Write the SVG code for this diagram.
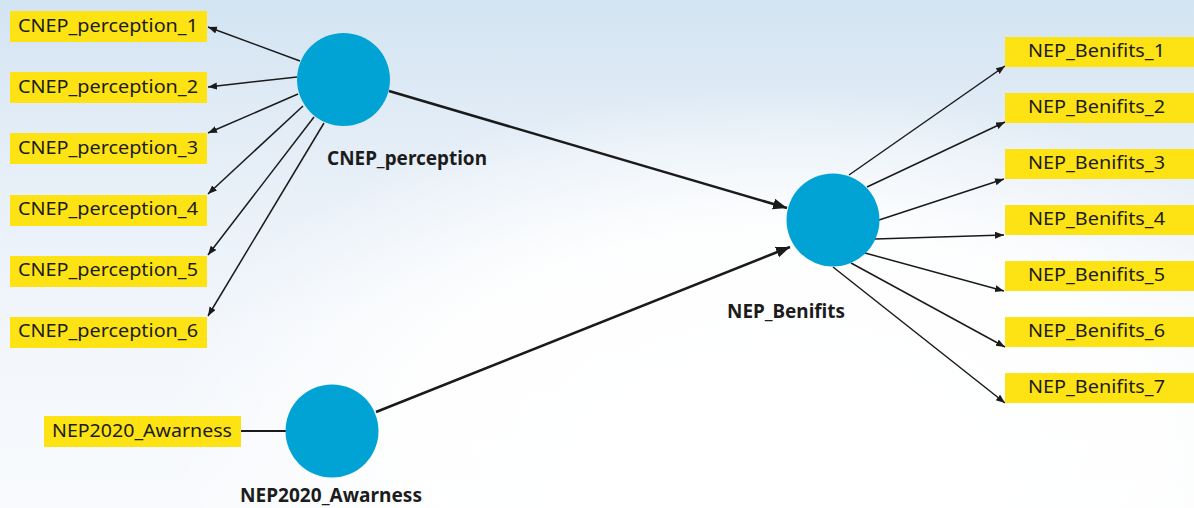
<svg xmlns="http://www.w3.org/2000/svg" width="1194" height="508" viewBox="0 0 1194 508">
<defs>
<linearGradient id="bg" x1="0" y1="0" x2="0" y2="1">
<stop offset="0" stop-color="#d3e4f2"/>
<stop offset="0.3" stop-color="#e5eef7"/>
<stop offset="0.65" stop-color="#f2f6fb"/>
<stop offset="1" stop-color="#f8fafd"/>
</linearGradient>
<radialGradient id="glow" cx="780" cy="430" r="620" gradientUnits="userSpaceOnUse" gradientTransform="translate(780 430) scale(1 0.55) translate(-780 -430)">
<stop offset="0" stop-color="#ffffff" stop-opacity="1"/>
<stop offset="0.6" stop-color="#ffffff" stop-opacity="0.9"/>
<stop offset="1" stop-color="#ffffff" stop-opacity="0"/>
</radialGradient>
<marker id="ah" markerUnits="userSpaceOnUse" markerWidth="10" markerHeight="8" refX="9" refY="3.5" orient="auto">
<path d="M0,0 L9,3.5 L0,7 z" fill="#1a1a1a"/>
</marker>
<marker id="ahBig" markerUnits="userSpaceOnUse" markerWidth="15" markerHeight="12" refX="14" refY="5.5" orient="auto">
<path d="M0,0 L14,5.5 L0,11 z" fill="#1a1a1a"/>
</marker>
</defs>
<style>
.box{fill:#fde314}
.lv{fill:#00a3d3}
.t{font-family:"Noto Sans","Liberation Sans",sans-serif;font-size:18px;fill:#1c1c1c}
.lbl{font-family:"Noto Sans","Liberation Sans",sans-serif;font-size:19px;font-weight:bold;fill:#1c1c1c}
.c{stroke:#1a1a1a;stroke-width:1.5;fill:none;marker-end:url(#ah)}
.cm{stroke:#1a1a1a;stroke-width:2.6;fill:none;marker-end:url(#ahBig)}
</style>
<rect x="0" y="0" width="1194" height="508" fill="url(#bg)"/>
<rect x="0" y="0" width="1194" height="508" fill="url(#glow)"/>

<g id="connectors">
<line class="c" x1="300" y1="61" x2="208" y2="27"/>
<line class="c" x1="297" y1="77" x2="208" y2="87"/>
<line class="c" x1="298" y1="94" x2="208" y2="133"/>
<line class="c" x1="303" y1="106" x2="208" y2="194"/>
<line class="c" x1="314" y1="117" x2="208" y2="255"/>
<line class="c" x1="324" y1="123" x2="208" y2="316"/>
<line class="c" x1="849" y1="175" x2="1005" y2="66"/>
<line class="c" x1="867" y1="187" x2="1005" y2="122"/>
<line class="c" x1="879" y1="220" x2="1004" y2="179"/>
<line class="c" x1="875" y1="239" x2="1004" y2="235"/>
<line class="c" x1="865" y1="253" x2="1004" y2="291"/>
<line class="c" x1="851" y1="263" x2="1005" y2="347"/>
<line class="c" x1="833" y1="267" x2="1005" y2="403"/>
<line class="cm" x1="389" y1="91" x2="787" y2="208"/>
<line class="cm" x1="376" y1="412" x2="790" y2="247"/>
<line x1="241" y1="431" x2="287" y2="431" stroke="#1a1a1a" stroke-width="2"/>
</g>

<g id="CNEP_perception">
<circle class="lv" cx="343.5" cy="79.5" r="46.5"/>
<text class="lbl" x="327" y="165" textLength="160" lengthAdjust="spacingAndGlyphs">CNEP_perception</text>
</g>
<g id="NEP_Benifits">
<circle class="lv" cx="833" cy="220" r="46.5"/>
<text class="lbl" x="727" y="318" textLength="118" lengthAdjust="spacingAndGlyphs">NEP_Benifits</text>
</g>
<g id="NEP2020_Awarness">
<circle class="lv" cx="332" cy="431" r="46.5"/>
<text class="lbl" x="240" y="502" textLength="182" lengthAdjust="spacingAndGlyphs">NEP2020_Awarness</text>
</g>

<g id="CNEP_perception_1"><rect class="box" x="10" y="11" width="197" height="31"/><text class="t" x="18" y="32" textLength="180" lengthAdjust="spacingAndGlyphs">CNEP_perception_1</text></g>
<g id="CNEP_perception_2"><rect class="box" x="10" y="72" width="197" height="31"/><text class="t" x="18" y="93" textLength="180" lengthAdjust="spacingAndGlyphs">CNEP_perception_2</text></g>
<g id="CNEP_perception_3"><rect class="box" x="10" y="133" width="197" height="31"/><text class="t" x="18" y="154" textLength="180" lengthAdjust="spacingAndGlyphs">CNEP_perception_3</text></g>
<g id="CNEP_perception_4"><rect class="box" x="10" y="195" width="197" height="31"/><text class="t" x="18" y="215" textLength="180" lengthAdjust="spacingAndGlyphs">CNEP_perception_4</text></g>
<g id="CNEP_perception_5"><rect class="box" x="10" y="256" width="197" height="31"/><text class="t" x="18" y="276" textLength="180" lengthAdjust="spacingAndGlyphs">CNEP_perception_5</text></g>
<g id="CNEP_perception_6"><rect class="box" x="10" y="317" width="197" height="31"/><text class="t" x="18" y="337" textLength="180" lengthAdjust="spacingAndGlyphs">CNEP_perception_6</text></g>

<g id="NEP2020_Awarness_ind"><rect class="box" x="44" y="416" width="197" height="31"/><text class="t" x="52" y="437" textLength="180" lengthAdjust="spacingAndGlyphs">NEP2020_Awarness</text></g>

<g id="NEP_Benifits_1"><rect class="box" x="1005" y="37" width="189" height="30"/><text class="t" x="1028" y="56.5" textLength="137" lengthAdjust="spacingAndGlyphs">NEP_Benifits_1</text></g>
<g id="NEP_Benifits_2"><rect class="box" x="1005" y="93" width="189" height="30"/><text class="t" x="1028" y="112.5" textLength="137" lengthAdjust="spacingAndGlyphs">NEP_Benifits_2</text></g>
<g id="NEP_Benifits_3"><rect class="box" x="1005" y="149" width="189" height="30"/><text class="t" x="1028" y="168.5" textLength="137" lengthAdjust="spacingAndGlyphs">NEP_Benifits_3</text></g>
<g id="NEP_Benifits_4"><rect class="box" x="1005" y="205" width="189" height="30"/><text class="t" x="1028" y="224.5" textLength="137" lengthAdjust="spacingAndGlyphs">NEP_Benifits_4</text></g>
<g id="NEP_Benifits_5"><rect class="box" x="1005" y="261" width="189" height="30"/><text class="t" x="1028" y="280.5" textLength="137" lengthAdjust="spacingAndGlyphs">NEP_Benifits_5</text></g>
<g id="NEP_Benifits_6"><rect class="box" x="1005" y="317" width="189" height="30"/><text class="t" x="1028" y="336.5" textLength="137" lengthAdjust="spacingAndGlyphs">NEP_Benifits_6</text></g>
<g id="NEP_Benifits_7"><rect class="box" x="1005" y="373" width="189" height="30"/><text class="t" x="1028" y="392.5" textLength="137" lengthAdjust="spacingAndGlyphs">NEP_Benifits_7</text></g>
</svg>
